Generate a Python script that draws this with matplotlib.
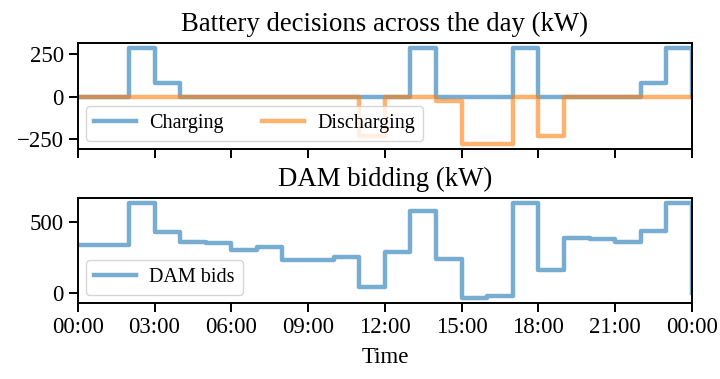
import matplotlib
matplotlib.use("Agg")
import matplotlib.pyplot as plt
import numpy as np

plt.rcParams['font.family'] = ['Liberation Serif', 'DejaVu Serif']

# hourly values, 00:00 .. 24:00 (last point closes the step)
hours = np.arange(25)
charging = [0, 0, 290, 80, 0, 0, 0, 0, 0, 0, 0, 0, 0, 290, 0, 0, 0, 290,
            0, 0, 0, 0, 80, 290, 0]
discharging = [0, 0, 0, 0, 0, 0, 0, 0, 0, 0, 0, -230, 0, 0, -25, -280, -280, 0,
               -230, 0, 0, 0, 0, 0, 0]
dam_bids = [340, 340, 635, 428, 360, 350, 304, 327, 236, 236, 252, 40, 288, 574,
            241, -34, -18, 630, 162, 387, 378, 360, 439, 630, 0]
tick_hours = [0, 3, 6, 9, 12, 15, 18, 21, 24]
tick_labels = ["00:00", "03:00", "06:00", "09:00", "12:00", "15:00", "18:00",
               "21:00", "00:00"]

fig = plt.figure(figsize=(7.2, 3.79), dpi=100)
ax1 = fig.add_axes([0.108, 0.607, 0.853, 0.280])
ax2 = fig.add_axes([0.108, 0.201, 0.853, 0.277])

TICK_FS = 16.5
LEG_FS = 14.5
TS = 19.3
leg_kw = dict(fontsize=LEG_FS, handlelength=2.1, handletextpad=0.65,
              borderaxespad=0.4)

ax1.step(hours, charging, where="post", color="tab:blue", lw=3.2, alpha=0.6,
         label="Charging")
ax1.step(hours, discharging, where="post", color="tab:orange", lw=3.2, alpha=0.6,
         label="Discharging")
ax1.set_title("Battery decisions across the day (kW)", fontsize=TS, pad=8.5)
ax1.set_yticks([-250, 0, 250])
ax1.legend(loc="lower left", ncol=2, columnspacing=1.9, **leg_kw)
ax1.set_xlim(0, 24)
ax1.set_xticks(tick_hours)
ax1.set_xticklabels([])

ax2.step(hours, dam_bids, where="post", color="tab:blue", lw=3.2, alpha=0.6,
         label="DAM bids")
ax2.set_title("DAM bidding (kW)", fontsize=TS, pad=8.5)
ax2.set_yticks([0, 500])
ax2.legend(loc="lower left", **leg_kw)
ax2.set_xlim(0, 24)
ax2.set_xticks(tick_hours)
ax2.set_xticklabels(tick_labels)
ax2.set_xlabel("Time", fontsize=16.5, labelpad=7)

for ax in (ax1, ax2):
    ax.tick_params(labelsize=TICK_FS, length=6.5, width=1.4)
    for s in ax.spines.values():
        s.set_linewidth(1.4)

fig.savefig("out.png", dpi=100)
